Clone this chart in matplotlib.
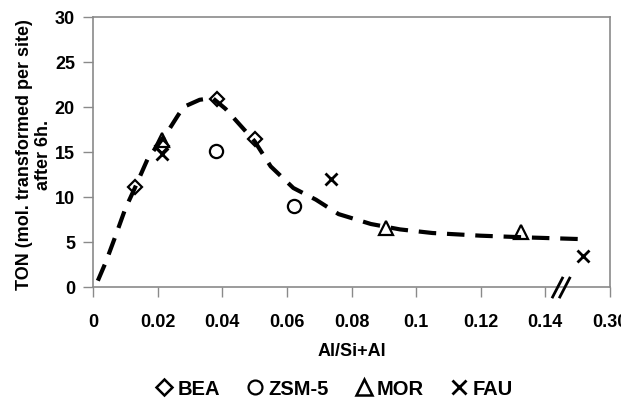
import matplotlib
matplotlib.use("Agg")
import matplotlib.pyplot as plt
from matplotlib.lines import Line2D

plt.rcParams['font.family'] = ['Liberation Sans', 'DejaVu Sans']
plt.rcParams['font.weight'] = 'bold'

# marker data (x = Al/Si+Al, y = TON)
bea_x = [0.013, 0.0214, 0.0385, 0.050]
bea_y = [11.1, 15.7, 20.9, 16.4]
zsm_x = [0.0382, 0.0622]
zsm_y = [15.15, 9.0]
mor_x = [0.0214, 0.0908, 0.1326]
mor_y = [16.3, 6.6, 6.07]
fau_x = [0.0214, 0.0738, 0.1515]
fau_y = [14.8, 12.0, 3.45]

# trend line
trend_x = [0.0015, 0.004, 0.007, 0.010, 0.0127, 0.017, 0.023, 0.026, 0.028, 0.033,
           0.037, 0.041, 0.0445, 0.050, 0.055, 0.062, 0.069, 0.076, 0.086, 0.095,
           0.105, 0.120, 0.135, 0.153]
trend_y = [0.7, 2.8, 5.7, 8.7, 10.8, 14.3, 17.2, 18.9, 20.0, 20.8,
           21.0, 19.8, 18.4, 16.2, 13.4, 11.0, 9.7, 8.1, 7.0, 6.4,
           6.0, 5.7, 5.5, 5.3]

xticks = [0, 0.02, 0.04, 0.06, 0.08, 0.10, 0.12, 0.14, 0.16]
xticklabels = ['0', '0.02', '0.04', '0.06', '0.08', '0.1', '0.12', '0.14', '0.30']
yticks = [0, 5, 10, 15, 20, 25, 30]

fig = plt.figure(figsize=(6.21, 4.02), dpi=100)
ax = fig.add_axes([93/621, 1 - 288/402, 517/621, 270/402])

ax.plot(trend_x, trend_y, color='black', lw=3.0, linestyle=(0, (4.2, 2.6)),
        dash_capstyle='butt', zorder=2)

mk = dict(linestyle='none', markerfacecolor='none', markeredgecolor='black', zorder=3)
ax.plot(bea_x, bea_y, marker='D', markersize=7, markeredgewidth=1.6, **mk)
ax.plot(zsm_x, zsm_y, marker='o', markersize=9.5, markeredgewidth=1.6, **mk)
ax.plot(mor_x, mor_y, marker='^', markersize=10, markeredgewidth=1.6, **mk)
ax.plot(fau_x, fau_y, marker='x', markersize=9, markeredgewidth=2.0,
        linestyle='none', color='black', zorder=3)

ax.set_xlim(0, 0.16)
ax.set_ylim(0, 30)
ax.set_xticks(xticks)
ax.set_xticklabels(xticklabels)
ax.set_yticks(yticks)

for s in ax.spines.values():
    s.set_color('#8a8a8a')
    s.set_linewidth(1.2)
ax.tick_params(axis='both', colors='#8a8a8a', labelcolor='black', labelsize=13,
               length=7, width=1.0, direction='out')
ax.tick_params(axis='x', pad=12)
ax.tick_params(axis='y', pad=6)

# axis break marks
for x0 in (0.889, 0.903):
    ax.plot([x0, x0 + 0.019], [-0.037, 0.033], transform=ax.transAxes,
            color='black', lw=2.0, clip_on=False, zorder=5)

fig.text(34/621, 1 - 155/402, 'TON (mol. transformed per site)\nafter 6h.',
         rotation=90, ha='center', va='center', multialignment='center',
         fontsize=13, fontweight='bold', linespacing=1.1)
fig.text(352/621, 1 - 352/402, 'Al/Si+Al', ha='center', va='center',
         fontsize=13, fontweight='bold')

handles = [
    Line2D([], [], marker='D', markersize=8, markeredgewidth=1.8, **mk),
    Line2D([], [], marker='o', markersize=10, markeredgewidth=1.6, **mk),
    Line2D([], [], marker='^', markersize=11, markeredgewidth=1.8, **mk),
    Line2D([], [], marker='x', markersize=10, markeredgewidth=2.0, linestyle='none', color='black'),
]
fig.legend(handles, ['BEA', 'ZSM-5', 'MOR', 'FAU'], loc='center',
           bbox_to_anchor=(334/621, 1 - 390/402), ncol=4, frameon=False,
           fontsize=14.5, handlelength=0.9, handletextpad=0.2, columnspacing=1.3,
           borderaxespad=0)

fig.savefig('out.png', dpi=100)
